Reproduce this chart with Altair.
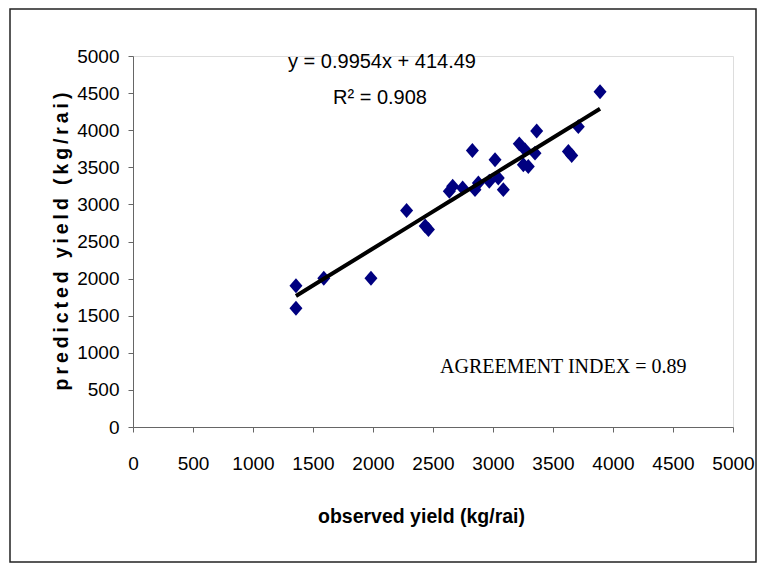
import altair as alt
import pandas as pd

observed = [1358, 1358, 1590, 1983, 2280, 2435, 2462, 2636, 2664, 2747, 2828, 2850, 2878,
            2969, 3017, 3044, 3086, 3219, 3253, 3267, 3294, 3350, 3364, 3628, 3656, 3711, 3892]
predicted = [1903, 1600, 2005, 2005, 2918, 2708, 2663, 3177, 3244, 3222, 3727, 3199, 3289,
             3311, 3601, 3356, 3199, 3816, 3534, 3735, 3512, 3691, 3990, 3713, 3660, 4048, 4517]
slope = 0.9954
intercept = 414.49
ticks = [0, 500, 1000, 1500, 2000, 2500, 3000, 3500, 4000, 4500, 5000]
eq_text = "y = 0.9954x + 414.49"
r2_text = "R\u00b2 = 0.908"
ai_text = "AGREEMENT INDEX = 0.89"
x_title = "observed yield (kg/rai)"
y_title = "predicted yield (kg/rai)"

df = pd.DataFrame({"observed": observed, "predicted": predicted})

SANS = "Liberation Sans"
TS = "\u2009"
y_title_spaced = TS.join(list(y_title))

W, H = 600, 371

xs = alt.Scale(domain=[0, 5000], nice=False)
ys = alt.Scale(domain=[0, 5000], nice=False)

x_axis = alt.Axis(values=ticks, format="d", title=x_title, grid=False, domainColor="#666666",
                  tickColor="#666666", tickSize=5, labelFont=SANS, labelFontSize=19,
                  labelColor="black", labelPadding=22, labelOverlap=False,
                  titleFont=SANS, titleFontSize=19.5,
                  titleFontWeight="bold", titleColor="black", titleX=288, titleY=89,
                  titleBaseline="middle", titleAnchor="middle", labelFlush=False)
y_axis = alt.Axis(values=ticks, format="d", title=y_title_spaced, grid=False, domainColor="#666666",
                  tickColor="#666666", tickSize=5, labelFont=SANS, labelFontSize=19,
                  labelColor="black", labelPadding=9, labelOverlap=False, labelSeparation=0,
                  labelBound=False,
                  titleFont=SANS, titleFontSize=19.5,
                  titleFontWeight="bold", titleColor="black", titleX=-72, titleY=185,
                  titleBaseline="middle", titleAngle=270, labelFlush=False)

border = alt.Chart(pd.DataFrame({"a": [0]})).mark_rect(
    fill="transparent", stroke="#222222", strokeWidth=1.5, clip=False
).encode(x=alt.value(-123), x2=alt.value(623), y=alt.value(-47), y2=alt.value(506))

points = alt.Chart(df).mark_point(
    shape="M0,-1.15L1,0L0,1.15L-1,0Z", filled=True, color="#000080", size=169, opacity=1
).encode(
    x=alt.X("observed:Q", scale=xs, axis=x_axis),
    y=alt.Y("predicted:Q", scale=ys, axis=y_axis),
)

line = alt.Chart(df).transform_calculate(
    fit=f"{slope} * datum.observed + {intercept}"
).mark_line(color="black", strokeWidth=4).encode(
    x=alt.X("observed:Q", scale=xs, axis=x_axis),
    y=alt.Y("fit:Q", scale=ys, axis=y_axis),
    order="observed:Q",
)

eq = alt.Chart(pd.DataFrame({"t": [eq_text]})).mark_text(
    font=SANS, fontSize=20, align="center", baseline="alphabetic", color="black"
).encode(text="t:N", x=alt.value(249), y=alt.value(12))
r2 = alt.Chart(pd.DataFrame({"t": [r2_text]})).mark_text(
    font=SANS, fontSize=20, align="center", baseline="alphabetic", color="black"
).encode(text="t:N", x=alt.value(247), y=alt.value(48))
ai = alt.Chart(pd.DataFrame({"t": [ai_text]})).mark_text(
    font="Liberation Serif", fontSize=20, align="left", baseline="alphabetic", color="black"
).encode(text="t:N", x=alt.value(307), y=alt.value(317))

chart = alt.layer(border, points, line, eq, r2, ai).properties(
    width=W, height=H,
    autosize=alt.AutoSizeParams(type="none"),
    padding={"left": 125, "top": 48, "right": 24, "bottom": 136},
).configure_view(strokeWidth=0).configure(background="white")

chart.save("out.html", embed_options={"renderer": "svg", "actions": False})
